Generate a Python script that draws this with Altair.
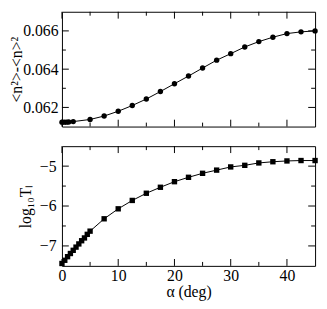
import altair as alt
import pandas as pd

# ---- data ----
alpha_top = [0, 0.4, 0.8, 1.2, 2.0, 5, 7.5, 10, 12.5, 15, 17.5, 20, 22.5, 25,
             27.5, 30, 32.5, 35, 37.5, 40, 42.5, 45]
var_top = [0.06123, 0.06123, 0.06123, 0.06124, 0.06126, 0.06137, 0.06155,
           0.0618, 0.0621, 0.06244, 0.06283, 0.06324, 0.06364, 0.06406,
           0.06447, 0.06481, 0.06516, 0.06544, 0.06567, 0.06586, 0.06595,
           0.0660]

alpha_bot = [0, 0.5, 1, 1.5, 2, 2.5, 3, 3.5, 4, 4.5, 5, 7.5, 10, 12.5, 15,
             17.5, 20, 22.5, 25, 27.5, 30, 32.5, 35, 37.5, 40, 42.5, 45]
logT_bot = [-7.44, -7.36, -7.27, -7.19, -7.11, -7.03, -6.95, -6.87, -6.80,
            -6.71, -6.63, -6.32, -6.07, -5.86, -5.68, -5.53, -5.39, -5.28,
            -5.18, -5.10, -5.02, -4.98, -4.92, -4.89, -4.87, -4.86, -4.86]

x_major = [0, 10, 20, 30, 40]
x_minor = [5, 15, 25, 35]
y_top_major = [0.062, 0.064, 0.066]
y_top_minor = [0.063, 0.065]
y_bot_major = [-7, -6, -5]
y_bot_minor = [-6.5, -5.5]

FONT = "Liberation Serif"
FS = 16
W = 258
H1 = 117
H2 = 122
MAJ = 7
MIN = 4

xscale = alt.Scale(domain=[0, 45], nice=False, zero=False)


def ticks(xs_major, xs_minor, ys_major, ys_minor, yscale, H):
    layers = []
    for vals, ln in ((xs_major, MAJ), (xs_minor, MIN)):
        d = pd.DataFrame({"t": vals})
        base = alt.Chart(d).mark_rule(color="black", strokeWidth=1)
        layers.append(base.encode(x=alt.X("t:Q", scale=xscale),
                                  y=alt.value(H), y2=alt.value(H - ln)))
        layers.append(base.encode(x=alt.X("t:Q", scale=xscale),
                                  y=alt.value(0), y2=alt.value(ln)))
    for vals, ln in ((ys_major, MAJ), (ys_minor, MIN)):
        d = pd.DataFrame({"v": vals})
        base = alt.Chart(d).mark_rule(color="black", strokeWidth=1)
        layers.append(base.encode(y=alt.Y("v:Q", scale=yscale),
                                  x=alt.value(0), x2=alt.value(ln)))
        layers.append(base.encode(y=alt.Y("v:Q", scale=yscale),
                                  x=alt.value(W), x2=alt.value(W - ln)))
    return layers


def ax(**kw):
    return alt.Axis(labelFont=FONT, titleFont=FONT, labelFontSize=FS,
                    titleFontSize=FS, labelColor="black", titleColor="black",
                    titleFontWeight="normal", labelFlush=False, ticks=False,
                    tickSize=0, domain=False, grid=False, **kw)


# ---- top panel ----
df_top = pd.DataFrame({"alpha": alpha_top, "v": var_top})
yscale_top = alt.Scale(domain=[0.061, 0.067], nice=False, zero=False)
base_top = alt.Chart(df_top).encode(
    x=alt.X("alpha:Q", scale=xscale,
            axis=ax(labels=False, title=None, values=x_major)),
    y=alt.Y("v:Q", scale=yscale_top,
            axis=ax(values=y_top_major, format=".3f", labelPadding=4,
                    title="<n²>-<n>²", titlePadding=-2)),
)
top = alt.layer(
    base_top.mark_line(color="black", strokeWidth=1),
    base_top.mark_circle(color="black", opacity=1, size=30),
    *ticks(x_major, x_minor, y_top_major, y_top_minor, yscale_top, H1),
).properties(width=W, height=H1)

# ---- bottom panel ----
df_bot = pd.DataFrame({"alpha": alpha_bot, "v": logT_bot})
yscale_bot = alt.Scale(domain=[-7.5, -4.5], nice=False, zero=False)
base_bot = alt.Chart(df_bot).encode(
    x=alt.X("alpha:Q", scale=xscale,
            axis=ax(values=x_major, labelPadding=2, title="α (deg)",
                    titlePadding=0)),
    y=alt.Y("v:Q", scale=yscale_bot,
            axis=ax(values=y_bot_major, format="d", labelPadding=6,
                    title="log₁₀Tₗ", titlePadding=6)),
)
bot = alt.layer(
    base_bot.mark_line(color="black", strokeWidth=1),
    base_bot.mark_square(color="black", opacity=1, size=30),
    *ticks(x_major, x_minor, y_bot_major, y_bot_minor, yscale_bot, H2),
).properties(width=W, height=H2)

chart = alt.vconcat(top, bot, spacing=18).properties(
    padding={"left": 0, "top": 0, "right": 0, "bottom": 0}
).configure(font=FONT).configure_view(
    stroke="black", strokeWidth=1
)

chart.save("out.html", embed_options={"renderer": "svg", "actions": False})
